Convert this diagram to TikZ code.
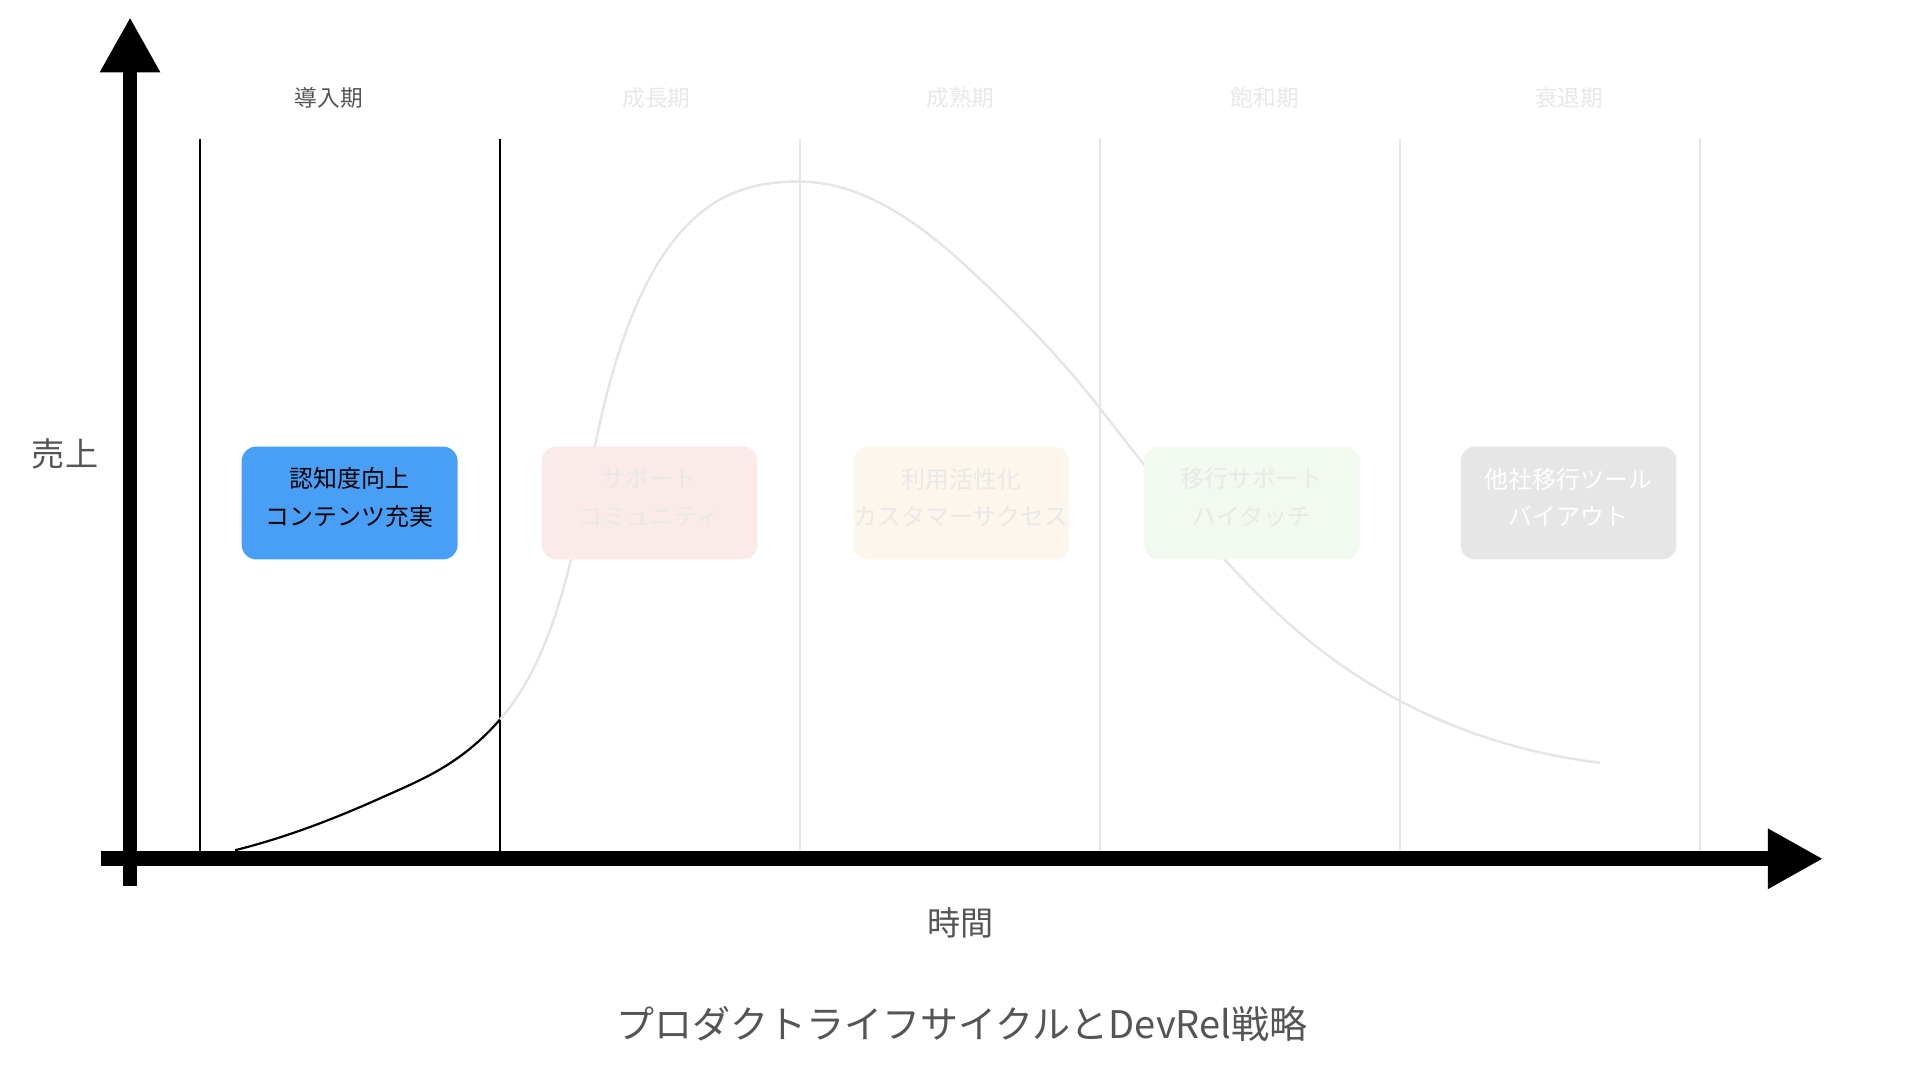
\documentclass[tikz,border=0pt]{standalone}
\usepackage{fontspec}
\setmainfont{Noto Sans CJK JP}
\usetikzlibrary{arrows.meta}

\definecolor{labelgray}{HTML}{555555}
\definecolor{fadedtext}{HTML}{E8E8E8}
\definecolor{fadedline}{HTML}{E5E5E5}
\definecolor{introblue}{HTML}{499FF6}
\definecolor{growthpink}{HTML}{FAEBE9}
\definecolor{maturecream}{HTML}{FDF6EC}
\definecolor{saturategreen}{HTML}{F2F9EE}
\definecolor{declinegray}{HTML}{E6E6E6}

\tikzset{
  axis/.style={line width=12pt,-{Triangle[length=45pt,width=46pt]}},
  phase/.style={font=\fontsize{18.5}{22}\selectfont},
  strategy/.style={rounded corners=12pt,minimum width=176pt,minimum height=92pt,inner sep=0pt},
  strategytext/.style={align=center,inner sep=0pt,font=\fontsize{19.5}{30.5}\selectfont},
  divider/.style={line width=1.63pt},
  axislabel/.style={text=labelgray,font=\fontsize{27}{30}\selectfont},
}

\begin{document}
\begin{tikzpicture}[x=1pt,y=-1pt]
  \useasboundingbox (0,0) rectangle (1565,880);

  %draw phase dividers
  \foreach \x/\clr in {163/black,407.6/black,652.1/fadedline,896.6/fadedline,1141.1/fadedline,1385.7/fadedline} {%
    \draw[divider,\clr] (\x,113) -- (\x,694);
  }

  %draw curve: introduction part black, the rest faded
  \draw[black,line width=1.8pt] (191.6,693)
    .. controls (231,683.2) and (270.4,668.4) .. (309.8,650.7)
    .. controls (342.4,636.0) and (375,623.9) .. (407.6,586.4);
  \draw[fadedline,line width=2pt] (407.6,586.4)
    .. controls (452.6,534.65) and (467,453.5) .. (485,363.5)
    .. controls (525,163.5) and (597,148) .. (652,148)
    .. controls (697.3,148) and (742.7,175.3) .. (788,217.4)
    .. controls (824.2,251.1) and (860.4,286.5) .. (896.6,332.8)
    .. controls (951,403.5) and (1005.3,470) .. (1059.7,516.2)
    .. controls (1129.7,575.7) and (1214.2,610.9) .. (1304.2,621.7);

  %draw axes
  \coordinate (ybot) at (106,722);
  \coordinate (ytop) at (106,14);
  \coordinate (xleft) at (82,700);
  \coordinate (xright) at (1486,700);
  \draw[axis] (ybot) -- (ytop);
  \draw[axis] (xleft) -- (xright);

  %phase names
  \foreach \x/\clr/\txt [count=\i] in {268/labelgray/導入期,535/fadedtext/成長期,
      783/fadedtext/成熟期,1031/fadedtext/飽和期,1279/fadedtext/衰退期} {%
    \node[phase,text=\clr] (phase\i) at (\x,80) {\txt};
  }

  % strategy boxes
  \foreach \x/\fc/\tc/\txt [count=\i] in {
      285/introblue/black/{認知度向上\\コンテンツ充実},
      529.5/growthpink/fadedtext/{サポート\\コミュニティ},
      783.5/maturecream/fadedtext/{利用活性化\\カスタマーサクセス},
      1020.5/saturategreen/fadedtext/{移行サポート\\ハイタッチ},
      1278.5/declinegray/white/{他社移行ツール\\バイアウト}} {%
    \node[strategy,fill=\fc] (box\i) at (\x,410) {};
    \node[strategytext,text=\tc] (boxtext\i) at (\x,405.3) {\txt};
  }

  \node[axislabel] (sales) at (53,370) {売上};
  \node[axislabel] (time) at (783,752) {時間};
  \node[text=labelgray,font=\fontsize{31}{34}\selectfont] (title) at (784,835) {プロダクトライフサイクルとDevRel戦略};
\end{tikzpicture}
\end{document}
